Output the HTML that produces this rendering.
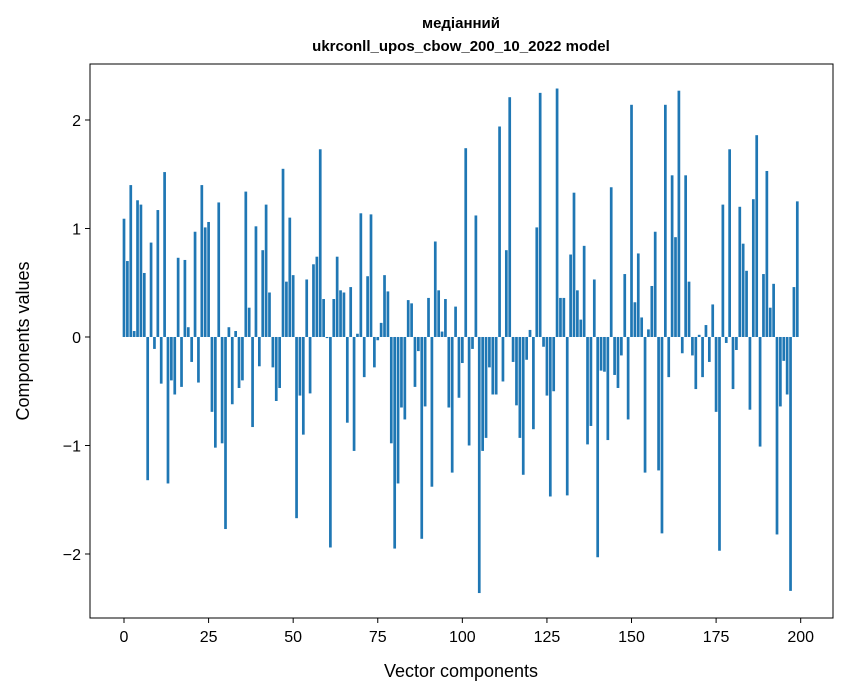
<!DOCTYPE html>
<html><head><meta charset="utf-8"><style>
html,body{margin:0;padding:0;background:#fff;width:847px;height:696px;overflow:hidden}
svg text{font-family:"Liberation Sans","DejaVu Sans",sans-serif;fill:#000}
</style></head><body>
<svg id="chart" width="847" height="696" xmlns="http://www.w3.org/2000/svg">
<text x="461" y="28" text-anchor="middle" font-size="15" font-weight="bold">медіанний</text>
<text x="461" y="51" text-anchor="middle" font-size="15" font-weight="bold">ukrconll_upos_cbow_200_10_2022 model</text>
<g id="bars"></g>
<rect x="90" y="64" width="743" height="554" fill="none" stroke="#000" stroke-width="1"/>
<g id="xticks"></g>
<g id="yticks"></g>
<text x="461" y="677" text-anchor="middle" font-size="18">Vector components</text>
<text x="0" y="0" transform="translate(29,341) rotate(-90)" text-anchor="middle" font-size="18">Components values</text>
</svg>
<script>
const values = [1.09,0.70,1.40,0.055,1.26,1.22,0.59,-1.32,0.87,-0.11,1.17,-0.43,1.52,-1.35,-0.40,-0.53,0.73,-0.46,0.71,0.09,
-0.23,0.97,-0.42,1.40,1.01,1.06,-0.69,-1.02,1.24,-0.98,-1.77,0.09,-0.62,0.055,-0.47,-0.40,1.34,0.27,-0.83,1.02,
-0.27,0.80,1.22,0.41,-0.28,-0.59,-0.47,1.55,0.51,1.10,0.57,-1.67,-0.54,-0.90,0.53,-0.52,0.67,0.74,1.73,0.35,
-0.01,-1.94,0.35,0.74,0.43,0.41,-0.79,0.46,-1.05,0.03,1.14,-0.37,0.56,1.13,-0.28,-0.03,0.13,0.57,0.42,-0.98,
-1.95,-1.35,-0.65,-0.76,0.34,0.31,-0.46,-0.13,-1.86,-0.64,0.36,-1.38,0.88,0.43,0.05,0.35,-0.65,-1.25,0.28,-0.56,
-0.24,1.74,-1.00,-0.11,1.12,-2.36,-1.05,-0.93,-0.28,-0.53,-0.53,1.94,-0.41,0.80,2.21,-0.23,-0.63,-0.93,-1.27,-0.21,
0.065,-0.85,1.01,2.25,-0.09,-0.54,-1.47,-0.50,2.29,0.36,0.36,-1.46,0.76,1.33,0.43,0.16,0.84,-0.99,-0.82,0.53,
-2.03,-0.31,-0.32,-0.95,1.38,-0.35,-0.47,-0.17,0.58,-0.76,2.14,0.32,0.77,0.18,-1.25,0.07,0.47,0.97,-1.23,-1.81,
2.14,-0.37,1.49,0.92,2.27,-0.15,1.49,0.51,-0.17,-0.48,0.02,-0.37,0.11,-0.23,0.30,-0.69,-1.97,1.22,-0.055,1.73,
-0.48,-0.12,1.20,0.86,0.61,-0.67,1.27,1.86,-1.01,0.58,1.53,0.27,0.49,-1.82,-0.64,-0.22,-0.53,-2.34,0.46,1.25];
const xTickValues = [0,25,50,75,100,125,150,175,200];
const yTickValues = [-2,-1,0,1,2];
const yTickLabels = ["\u22122","\u22121","0","1","2"];

const NS="http://www.w3.org/2000/svg";
const X0=90,X1=833,Y0=64,Y1=618;
const xMin=-10.05,xMax=209.55,yMin=-2.59,yMax=2.516;
function xScale(v){return X0+(v-xMin)/(xMax-xMin)*(X1-X0);}
function yScale(v){return Y1-(v-yMin)/(yMax-yMin)*(Y1-Y0);}

const bars=document.getElementById('bars');
values.forEach((v,i)=>{
  const r=document.createElementNS(NS,'rect');
  
  
  const xl=xScale(i-0.4), xr=xScale(i+0.4);
  const y0=yScale(0), yv=yScale(v);
  r.setAttribute('x',xl);r.setAttribute('width',xr-xl);
  r.setAttribute('y',Math.min(y0,yv));r.setAttribute('height',Math.abs(yv-y0));
  r.setAttribute('fill','#1f77b4');
  bars.appendChild(r);
});

const xt=document.getElementById('xticks');
xTickValues.forEach(t=>{
  const x=xScale(t);
  const l=document.createElementNS(NS,'line');
  
  
  l.setAttribute('x1',x);l.setAttribute('x2',x);l.setAttribute('y1',Y1);l.setAttribute('y2',Y1+5);
  l.setAttribute('stroke','#000');
  xt.appendChild(l);
  const tx=document.createElementNS(NS,'text');
  
  
  tx.setAttribute('x',x);tx.setAttribute('y',Y1+24);
  tx.setAttribute('text-anchor','middle');tx.setAttribute('font-size','16');
  tx.textContent=String(t);
  xt.appendChild(tx);
});
const yt=document.getElementById('yticks');
yTickValues.forEach((t,k)=>{
  const y=yScale(t);
  const l=document.createElementNS(NS,'line');
  
  
  l.setAttribute('x1',X0-5);l.setAttribute('x2',X0);l.setAttribute('y1',y);l.setAttribute('y2',y);
  l.setAttribute('stroke','#000');
  yt.appendChild(l);
  const tx=document.createElementNS(NS,'text');
  
  
  tx.setAttribute('x',X0-9);tx.setAttribute('y',y+6);
  tx.setAttribute('text-anchor','end');tx.setAttribute('font-size','16');
  tx.textContent=yTickLabels[k];
  yt.appendChild(tx);
});
</script>
</body></html>
